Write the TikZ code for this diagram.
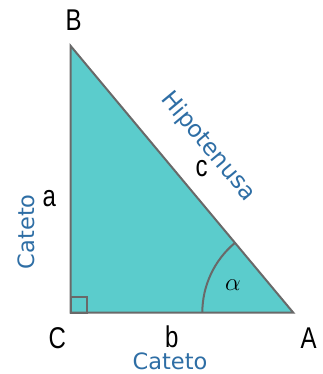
\documentclass[tikz,border=0pt]{standalone}
\usepackage{fontspec}
\setmainfont{Liberation Sans}
\newfontfamily\labelfont{DejaVu Sans}
\definecolor{trifill}{RGB}{91,204,204}
\definecolor{edgegray}{RGB}{105,105,105}
\definecolor{textblue}{RGB}{46,110,165}
\newcommand{\narrowtxt}[1]{\scalebox{0.8}[1]{\fontsize{30}{30}\selectfont #1}}
\begin{document}
\begin{tikzpicture}[x=1pt,y=1pt,
  vertex/.style={text=black, inner sep=0pt},
  bluelab/.style={font=\labelfont\fontsize{22.5}{22.5}\selectfont, text=textblue, inner sep=0pt},
  edge/.style={draw=edgegray, line width=2pt}]
\useasboundingbox (0,0) rectangle (323,374);
\coordinate (A) at (293.3,61.3);
\coordinate (B) at (70.7,328);
\coordinate (C) at (70.7,61.3);
\fill[trifill] (A) -- (B) -- (C) -- cycle;
\draw[edge] (C) rectangle ++(15.8,15.8);
\draw[edge] ([xshift=-91pt]A) arc[start angle=180, end angle=129.85, radius=91pt];
\draw[edge, line join=miter] (A) -- (B) -- (C) -- cycle;
\node[vertex] (lB) at (73.7,354.2) {\narrowtxt{B}};
\node[vertex] (lC) at (57.3,35.7) {\narrowtxt{C}};
\node[vertex] (lA) at (308.7,35.7) {\narrowtxt{A}};
\node[vertex] (la) at (49.3,175.5) {\narrowtxt{a}};
\node[vertex] (lb) at (171.7,37) {\narrowtxt{b}};
\node[vertex] (lc) at (201.7,205) {\narrowtxt{c}};
\node[inner sep=0pt] (lalpha) at (233,88.7) {\fontsize{34}{34}\selectfont$\alpha$};
\node[bluelab] (cat1) at (170,12.3) {Cateto};
\node[bluelab, rotate=90] (cat2) at (26,142.3) {Cateto};
\node[bluelab, font=\labelfont\fontsize{23.5}{23.5}\selectfont, rotate=-50.15] (hip) at (208.3,227.3) {Hipotenusa};
\end{tikzpicture}
\end{document}
